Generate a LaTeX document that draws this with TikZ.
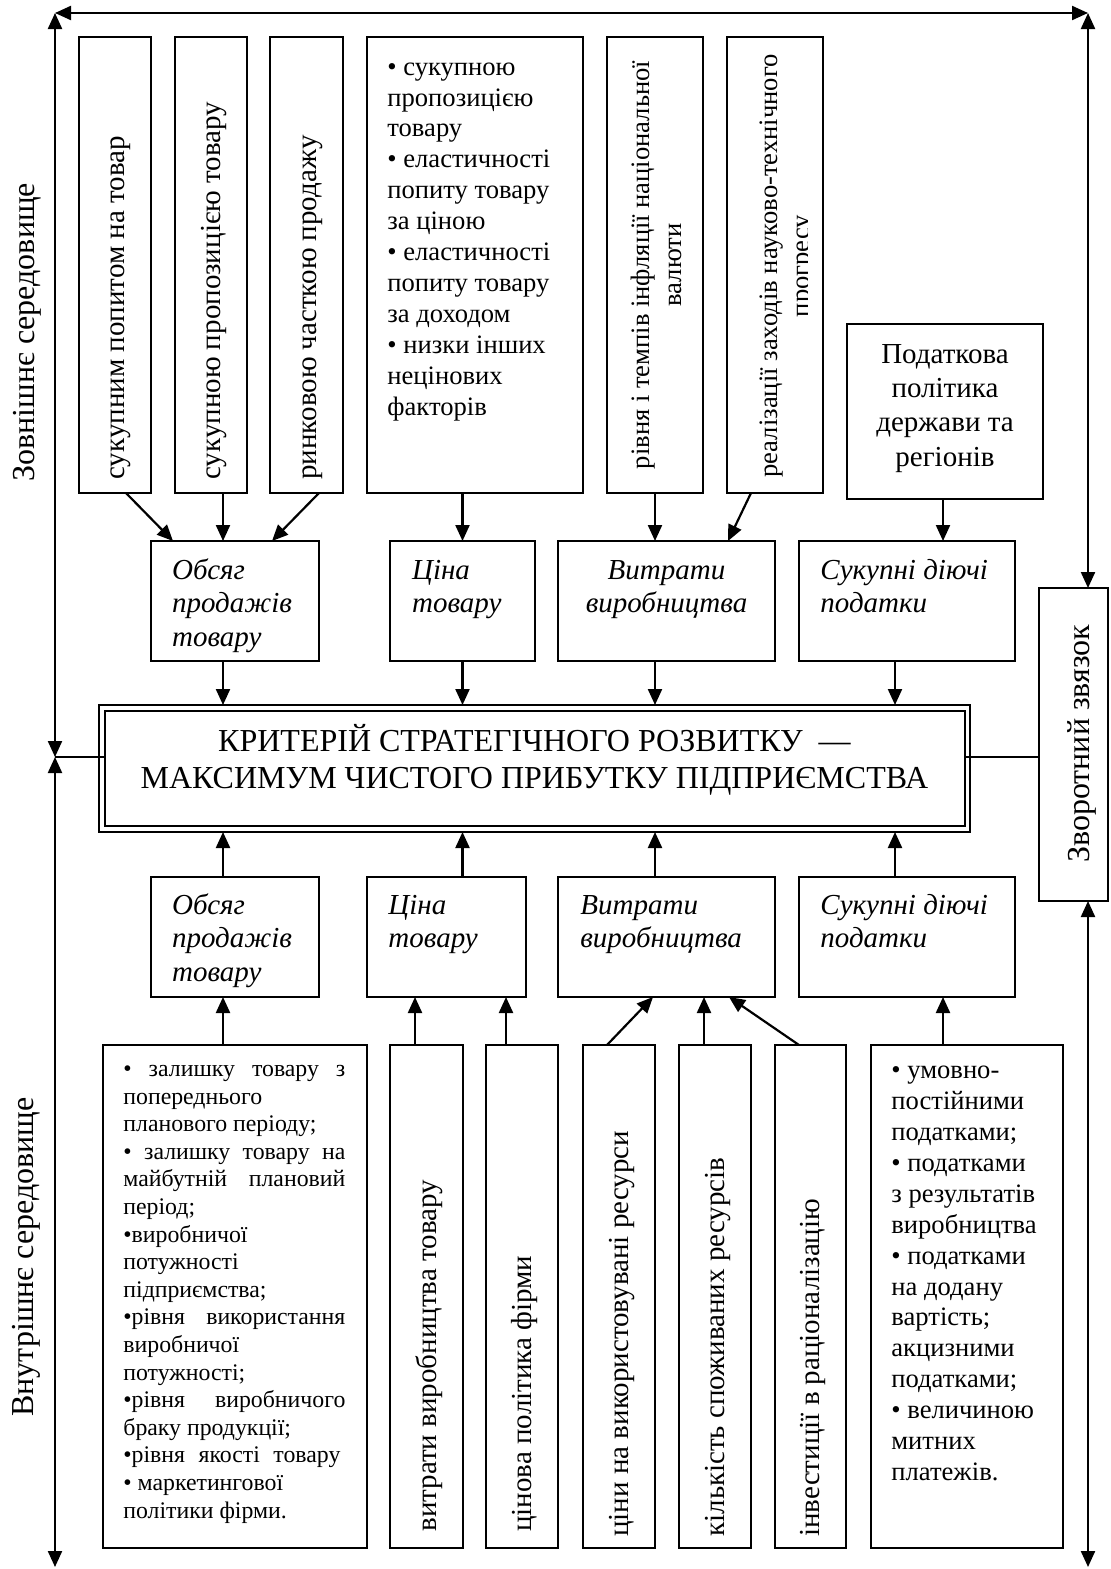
\documentclass[tikz,border=0pt]{standalone}
\usepackage{fontspec}
\setmainfont{Liberation Serif}
\usetikzlibrary{arrows.meta,calc}
\newcommand\pbox[6][]{\node[box,#1,minimum width={(#4-#2)*0.5pt},minimum height={(#5-#3)*0.5pt}] (#6) at ({(#2+#4)/2},{(#3+#5)/2}) {};}
\begin{document}
\begin{tikzpicture}[x=0.5pt,y=-0.5pt,
  box/.style={draw,line width=0.95pt,inner sep=0pt,outer sep=0pt},
  arr/.style={line width=1.1pt,-{Triangle[length=8pt,width=7pt]}},
  farr/.style={line width=1.1pt,{Triangle[length=8pt,width=7pt]}-{Triangle[length=8pt,width=7pt]}},
  thinln/.style={line width=0.6pt},
  vt/.style={rotate=90,anchor=base west,inner sep=0pt,font=\fontsize{14.5}{16}\selectfont},
  vt2/.style={rotate=90,anchor=base,align=center,inner sep=0pt,font=\fontsize{13.3}{16}\selectfont},
  itx/.style={anchor=base west,align=left,inner sep=0pt,font=\fontsize{14.5}{16.75}\selectfont\itshape},
  bl/.style={anchor=base west,align=left,inner sep=0pt,font=\fontsize{13.3}{15.45}\selectfont},
  sidelbl/.style={rotate=90,anchor=base west,inner sep=0pt,font=\fontsize{16}{18}\selectfont},
]
\useasboundingbox (0,0) rectangle (1110,1569);

% boxes
\pbox{79}{37}{151}{493}{b1}
\pbox{175}{37}{247}{493}{b2}
\pbox{270}{37}{343}{493}{b3}
\pbox{367}{37}{583}{493}{b4}
\pbox{607}{37}{703}{493}{b5}
\pbox{727}{37}{823}{493}{b6}
\pbox{847}{324}{1043}{499}{b7}
\pbox{151}{541}{319}{661}{o1}
\pbox{390}{541}{535}{661}{c1}
\pbox{558}{541}{775}{661}{v1}
\pbox{799}{541}{1015}{661}{s1}
\pbox[line width=1.4pt]{99}{705}{970}{832}{main}
\pbox[line width=0.7pt]{105}{711}{965}{826}{maini}
\pbox{151}{877}{319}{997}{o2}
\pbox{367}{877}{526}{997}{c2}
\pbox{558}{877}{775}{997}{v2}
\pbox{799}{877}{1015}{997}{s2}
\pbox{103}{1045}{367}{1548}{d1}
\pbox{390}{1045}{463}{1548}{d2}
\pbox{486}{1045}{558}{1548}{d3}
\pbox{583}{1045}{655}{1548}{d4}
\pbox{679}{1045}{751}{1548}{d5}
\pbox{775}{1045}{846}{1548}{d6}
\pbox{871}{1045}{1063}{1548}{d7}
\pbox{1039}{588}{1108}{901}{fb}

% texts, top row (multi-line nodes: base = last line's baseline)
\node[vt] (tb1) at (124.5,480) {сукупним попитом на товар};
\node[vt] (tb2) at (220.5,480) {сукупною пропозицією товару};
\node[vt] (tb3) at (316,480) {ринковою часткою продажу};
\node[bl] (tb4) at (387,415) {• сукупною\\пропозицією\\товару\\• еластичності\\попиту товару\\за ціною\\• еластичності\\попиту товару\\за доходом\\• низки інших\\нецінових\\факторів};
\node[vt2] (tb5) at (681,265) {рівня і темпів інфляції національної\\валюти};
\begin{scope}
\clip (727,37) rectangle (807,493);
\node[vt2] (tb6) at (809,266) {реалізації заходів науково-технічного\\прогресу};
\end{scope}
\node[align=center,anchor=base,inner sep=0pt,font=\fontsize{14.5}{17.15}\selectfont] (tb7) at (945,466) {Податкова\\політика\\держави та\\регіонів};

% italic boxes
\node[itx] (to1) at (171.7,646) {Обсяг\\продажів\\товару};
\node[itx] (tc1) at (411.7,612.5) {Ціна\\товару};
\node[itx,align=center,anchor=base] (tv1) at (666.5,612.5) {Витрати\\виробництва};
\node[itx] (ts1) at (820,612.5) {Сукупні діючі\\податки};
\node[itx] (to2) at (171.7,981) {Обсяг\\продажів\\товару};
\node[itx] (tc2) at (388,947.5) {Ціна\\товару};
\node[itx] (tv2) at (580,947.5) {Витрати\\виробництва};
\node[itx] (ts2) at (820,947.5) {Сукупні діючі\\податки};

% title
\node[align=center,anchor=base,inner sep=0pt,font=\fontsize{16}{18.3}\selectfont] (title) at (534.5,788.3) {КРИТЕРІЙ СТРАТЕГІЧНОГО РОЗВИТКУ\ \ —\\МАКСИМУМ ЧИСТОГО ПРИБУТКУ ПІДПРИЄМСТВА};

% bottom row
\node[anchor=base west,align=left,inner sep=0pt,font=\fontsize{11.9}{13.8}\selectfont] (td1) at (123,1518) {\makebox[111pt][s]{• залишку товару з}\\попереднього\\планового періоду;\\\makebox[111pt][s]{• залишку товару на}\\\makebox[111pt][s]{майбутній плановий}\\період;\\•виробничої\\потужності\\підприємства;\\\makebox[111pt][s]{•рівня використання}\\виробничої\\потужності;\\\makebox[111pt][s]{•рівня виробничого}\\браку продукції;\\\makebox[108.5pt][s]{•рівня якості товару}\\• маркетингової\\політики фірми.};
\node[vt] (td2) at (436,1532) {витрати виробництва товару};
\node[vt] (td3) at (531.5,1532) {цінова політика фірми};
\node[vt] (td4) at (628.5,1537) {ціни на використовувані ресурси};
\node[vt] (td5) at (724.5,1537) {кількість споживаних ресурсів};
\node[vt] (td6) at (819.5,1537) {інвестиції в раціоналізацію};
\node[bl] (td7) at (891,1480.4) {• умовно-\\постійними\\податками;\\• податками\\з результатів\\виробництва\\• податками\\на додану\\вартість;\\акцизними\\податками;\\• величиною\\митних\\платежів.};

% side labels
\node[sidelbl] (lext) at (34,482) {Зовнішнє середовище};
\node[sidelbl] (lint) at (33,1417) {Внутрішнє середовище};
\node[sidelbl] (tfb) at (1089,863) {Зворотний звязок};

% connectors top
\draw[arr] ($(b1.south)+(11,0)$) -- ($(o1.north)+(-62,0)$);
\draw[arr] ($(b2.south)+(12,0)$) -- ($(o1.north)+(-12,0)$);
\draw[arr] ($(b3.south)+(12.5,0)$) -- ($(o1.north)+(37,0)$);
\draw[arr] ($(b4.south)+(-12.5,0)$) -- (c1.north);
\draw[arr] (b5.south) -- ($(v1.north)+(-11.5,0)$);
\draw[arr] ($(b6.south)+(-24,0)$) -- ($(v1.north)+(61.5,0)$);
\draw[arr] ($(b7.south)+(-2,0)$) -- ($(s1.north)+(36,0)$);

\coordinate (p1) at ($(o1.south)+(-12,0)$);
\coordinate (p3) at ($(v1.south)+(-11.5,0)$);
\coordinate (p4) at ($(s1.south)+(-12,0)$);
\draw[arr] (p1) -- (p1 |- main.north);
\draw[arr] (c1.south) -- (c1.south |- main.north);
\draw[arr] (p3) -- (p3 |- main.north);
\draw[arr] (p4) -- (p4 |- main.north);

\coordinate (q1) at ($(o2.north)+(-12,0)$);
\coordinate (q2) at ($(c2.north)+(16,0)$);
\coordinate (q3) at ($(v2.north)+(-11.5,0)$);
\coordinate (q4) at ($(s2.north)+(-12,0)$);
\draw[arr] (q1) -- (q1 |- main.south);
\draw[arr] (q2) -- (q2 |- main.south);
\draw[arr] (q3) -- (q3 |- main.south);
\draw[arr] (q4) -- (q4 |- main.south);

\draw[arr] ($(d1.north)+(-12,0)$) -- ($(o2.south)+(-12,0)$);
\draw[arr] ($(d2.north)+(-11.5,0)$) -- ($(c2.south)+(-31.5,0)$);
\draw[arr] ($(d3.north)+(-16,0)$) -- ($(c2.south)+(59.5,0)$);
\draw[arr] ($(d4.north)+(-12,0)$) -- ($(v2.south)+(-13.5,0)$);
\draw[arr] ($(d5.north)+(-11,0)$) -- ($(v2.south)+(37.5,0)$);
\draw[arr] ($(d6.north)+(-11.5,0)$) -- ($(v2.south)+(62.5,0)$);
\draw[arr] ($(d7.north)+(-24,0)$) -- ($(s2.south)+(36,0)$);

% frame
\coordinate (tl) at (55,13);
\coordinate (tr) at (1088,13);
\coordinate (lm) at (55,757);
\coordinate (lb) at (55,1567);
\coordinate (rb) at (1088,1567);
\draw[farr] (tl) -- (tr);
\draw[farr] (tl) -- (lm);
\draw[farr] (lm) -- (lb);
\draw[farr] (tr) -- (tr |- fb.north);
\draw[farr] (tr |- fb.south) -- (rb);
\draw[thinln] (lm) -- (lm -| maini.west);
\draw[thinln] (maini.east |- lm) -- (fb.west |- lm);
\end{tikzpicture}
\end{document}
